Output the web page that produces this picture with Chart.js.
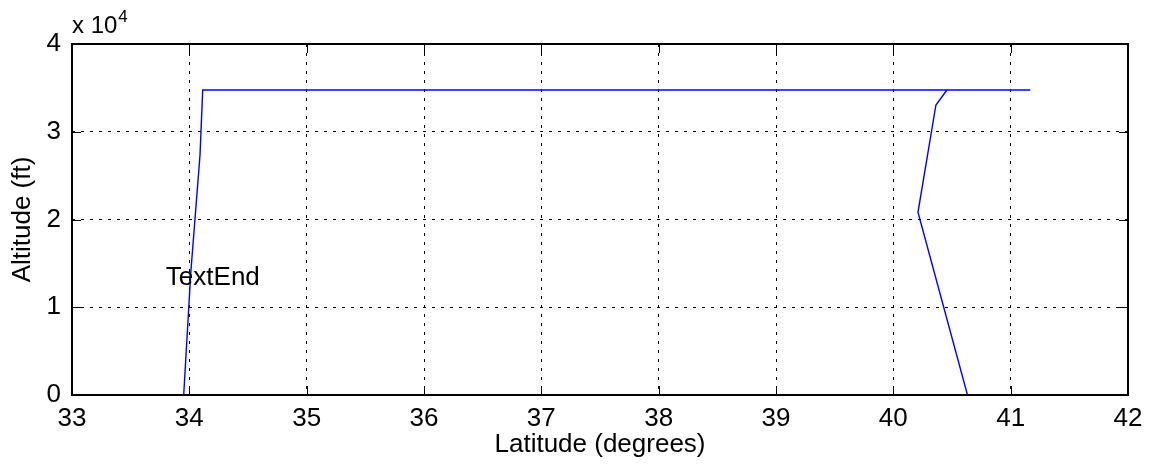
<!DOCTYPE html>
<html>
<head>
<meta charset="utf-8">
<script src="https://cdn.jsdelivr.net/npm/chart.js@4"></script>
<style>
  html, body { margin: 0; padding: 0; background: #fff; }
  #wrap { width: 1151px; height: 469px; }
</style>
</head>
<body>
<div id="wrap"><canvas id="altChart" width="1151" height="469"></canvas></div>
<script>
// flight profile
const latitude   = [33.952, 34.012, 34.091, 34.114, 41.167, 40.457, 40.363, 40.210, 40.632];
const altitudeFt = [0, 13870, 27350, 34760, 34760, 34760, 33050, 20820, 0];
const latTicks = [33, 34, 35, 36, 37, 38, 39, 40, 41, 42];
const altTicks = [0, 10000, 20000, 30000, 40000];
const note = { text: 'TextEnd', lat: 33.80, alt: 13300 };

const FONT = '"Liberation Sans", Arial, sans-serif';
const FS = 26;

const points = latitude.map((x, i) => ({ x: x, y: altitudeFt[i] }));

const matlabAxes = {
    id: 'matlabAxes',
    afterDraw(chart) {
        const ctx = chart.ctx;
        const a = chart.chartArea;
        const xs = chart.scales.x, ys = chart.scales.y;
        ctx.save();
        ctx.strokeStyle = '#000';
        ctx.lineWidth = 1;
        // inward tick marks on all four sides
        ctx.beginPath();
        latTicks.forEach(v => {
            const px = Math.round(xs.getPixelForValue(v)) + 0.5;
            ctx.moveTo(px, a.bottom); ctx.lineTo(px, a.bottom - 9);
            ctx.moveTo(px, a.top); ctx.lineTo(px, a.top + 9);
        });
        altTicks.forEach(v => {
            const py = Math.round(ys.getPixelForValue(v)) + 0.5;
            ctx.moveTo(a.left, py); ctx.lineTo(a.left + 9, py);
            ctx.moveTo(a.right, py); ctx.lineTo(a.right - 9, py);
        });
        ctx.stroke();
        // box
        ctx.lineWidth = 2;
        ctx.strokeRect(a.left, a.top, a.right - a.left, a.bottom - a.top);

        // text annotation
        ctx.fillStyle = '#000';
        ctx.font = FS + 'px ' + FONT;
        ctx.textBaseline = 'middle';
        ctx.textAlign = 'left';
        ctx.fillText(note.text, xs.getPixelForValue(note.lat), ys.getPixelForValue(note.alt));

        // exponent label
        ctx.textBaseline = 'alphabetic';
        ctx.font = '24px ' + FONT;
        ctx.fillText('x 10', a.left, 33);
        const w = ctx.measureText('x 10').width;
        ctx.font = '17px ' + FONT;
        ctx.fillText('4', a.left + w + 1, 22);
        ctx.restore();
    }
};

const ctx = document.getElementById('altChart').getContext('2d');
new Chart(ctx, {
    type: 'scatter',
    data: {
        datasets: [{
            data: points,
            showLine: true,
            borderColor: '#0000ff',
            borderWidth: 1.4,
            pointRadius: 0,
            pointHoverRadius: 0,
            tension: 0
        }]
    },
    options: {
        responsive: false,
        animation: false,
        layout: { padding: { top: 44, right: 23, left: 0, bottom: 0 } },
        plugins: {
            legend: { display: false },
            tooltip: { enabled: false }
        },
        scales: {
            x: {
                type: 'linear',
                min: 33,
                max: 42,
                afterBuildTicks: s => { s.ticks = latTicks.map(v => ({ value: v })); },
                afterFit: s => { s.height = 74; },
                ticks: { color: '#000', font: { family: FONT, size: FS }, padding: 8, maxRotation: 0 },
                grid: { color: '#000', lineWidth: 1, drawTicks: false },
                border: { display: false, dash: [3, 6] },
                title: { display: true, text: 'Latitude (degrees)', color: '#000',
                         font: { family: FONT, size: FS }, padding: { top: 0, bottom: 9 } }
            },
            y: {
                min: 0,
                max: 40000,
                afterBuildTicks: s => { s.ticks = altTicks.map(v => ({ value: v })); },
                afterFit: s => { s.width = 72; },
                ticks: { color: '#000', font: { family: FONT, size: FS }, padding: 11,
                         callback: v => String(v / 10000) },
                grid: { color: '#000', lineWidth: 1, drawTicks: false },
                border: { display: false, dash: [3, 6] },
                title: { display: true, text: 'Altitude (ft)', color: '#000',
                         font: { family: FONT, size: FS }, padding: { top: 7, bottom: 0 } }
            }
        }
    },
    plugins: [matlabAxes]
});
</script>
</body>
</html>
